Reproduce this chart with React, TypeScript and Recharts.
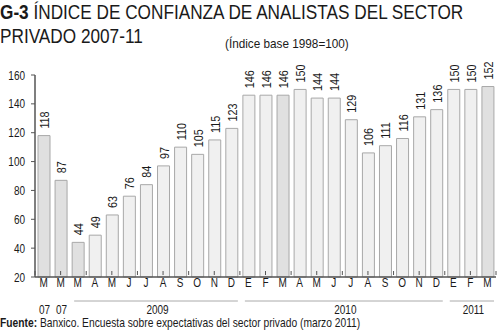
import React from "react"
import { BarChart, Bar, XAxis, YAxis, LabelList, Cell } from "recharts"

const months = ["M", "M", "M", "A", "M", "J", "J", "A", "S", "O", "N", "D", "E", "F", "M", "A", "M", "J", "J", "A", "S", "O", "N", "D", "E", "F", "M"]
const values = [118, 87, 44, 49, 63, 76, 84, 97, 110, 105, 115, 123, 146, 146, 146, 150, 144, 144, 129, 106, 111, 116, 131, 136, 150, 150, 152]
const darkBars = [0, 1, 2, 14, 26]
const yearGroups = [
  { label: "07", start: 0, count: 1, line: false },
  { label: "07", start: 1, count: 1, line: false },
  { label: "2009", start: 2, count: 10, line: true },
  { label: "2010", start: 12, count: 12, line: true },
  { label: "2011", start: 24, count: 3, line: true },
]
const yTicks = [20, 40, 60, 80, 100, 120, 140, 160]

const data = months.map((m, i) => ({ month: m, value: values[i] }))

const W = 500
const H = 335
const LEFT = 35
const RIGHT = 4
const BAND = (W - LEFT - RIGHT) / months.length
const FONT = '"Liberation Sans", Arial, sans-serif'
const SX = 0.8

// narrow text: regular sans squeezed horizontally
const Narrow = ({ x, y, size, anchor = "start", rotate = 0, children }: any) => (
  <text
    transform={`translate(${x} ${y}) rotate(${rotate}) scale(${SX} 1)`}
    textAnchor={anchor}
    fontSize={size}
    fill="#1a1a1a"
    fontFamily={FONT}
  >
    {children}
  </text>
)

const MonthTick = (props: any) => {
  const { x, y, payload, index } = props
  const left = x - BAND / 2
  const axisY = y - 14
  // small marks every 1.5 categories, as in the original
  const marks: number[] = []
  if (index % 3 === 0) marks.push(left)
  if (index % 3 === 1) marks.push(x)
  if (index === months.length - 1) marks.push(left + BAND)

  const group = yearGroups.find((g) => g.start === index)
  let yearEl = null
  if (group) {
    const right = left + group.count * BAND
    yearEl = (
      <g>
        {group.line && <line x1={left + 5} x2={right - 2} y1={y + 16} y2={y + 16} stroke="#aaa" strokeWidth={1} />}
        <Narrow x={group.line ? (left + right) / 2 + 3 : x + 1} y={y + 29} size={12.5} anchor="middle">
          {group.label}
        </Narrow>
      </g>
    )
  }
  return (
    <g>
      {marks.map((mx, k) => (
        <line key={k} x1={mx} x2={mx} y1={axisY} y2={axisY + 4} stroke="#555" strokeWidth={1} />
      ))}
      <Narrow x={x} y={y + 2} size={12.5} anchor="middle">
        {payload.value}
      </Narrow>
      {yearEl}
    </g>
  )
}

const ValTick = (props: any) => {
  const { x, y, payload } = props
  return (
    <Narrow x={x - 4} y={y + 4.5} size={12.5} anchor="end">
      {payload.value}
    </Narrow>
  )
}

const ValueLabel = (props: any) => {
  const { x, y, width, value } = props
  return (
    <Narrow x={x + width / 2 + 5} y={y - 7} size={13.5} rotate={-90}>
      {value}
    </Narrow>
  )
}

export default function App() {
  return (
    <div style={{ position: "absolute", left: 0, top: 0, width: W, height: H, background: "#fff", fontFamily: FONT, color: "#1a1a1a", overflow: "hidden" }}>
      <div
        style={{
          position: "absolute",
          left: 0,
          top: 0,
          fontSize: 20,
          lineHeight: "24px",
          whiteSpace: "nowrap",
          transform: "scaleX(0.86)",
          transformOrigin: "0 0",
        }}
      >
        <b>G-3</b> ÍNDICE DE CONFIANZA DE ANALISTAS DEL SECTOR
        <br />
        PRIVADO 2007-11
      </div>
      <div
        style={{
          position: "absolute",
          left: 225,
          top: 36,
          fontSize: 13.5,
          whiteSpace: "nowrap",
          transform: "scaleX(0.87)",
          transformOrigin: "0 0",
        }}
      >
        (Índice base 1998=100)
      </div>
      <BarChart width={W} height={H} data={data} margin={{ top: 75, right: RIGHT, bottom: 4, left: 0 }} barSize={12}>
        <XAxis
          dataKey="month"
          height={54}
          interval={0}
          axisLine={{ stroke: "#555", strokeWidth: 1.5 }}
          tickLine={false}
          tickSize={6}
          tickMargin={2}
          tick={<MonthTick />}
        />
        <YAxis
          width={LEFT}
          domain={[20, 160]}
          ticks={yTicks}
          interval={0}
          axisLine={{ stroke: "#555", strokeWidth: 1.5 }}
          tickLine={{ stroke: "#555" }}
          tickSize={4}
          tick={<ValTick />}
        />
        <Bar dataKey="value" stroke="#a8a8a8" strokeWidth={1} isAnimationActive={false}>
          {data.map((_, i) => (
            <Cell key={i} fill={darkBars.includes(i) ? "#e0e0e0" : "#f0f0f0"} />
          ))}
          <LabelList dataKey="value" content={<ValueLabel />} />
        </Bar>
      </BarChart>
      <div
        style={{
          position: "absolute",
          left: 0,
          top: 315,
          fontSize: 13.5,
          whiteSpace: "nowrap",
          transform: "scaleX(0.76)",
          transformOrigin: "0 0",
        }}
      >
        <b>Fuente:</b> Banxico. Encuesta sobre expectativas del sector privado (marzo 2011)
      </div>
    </div>
  )
}
